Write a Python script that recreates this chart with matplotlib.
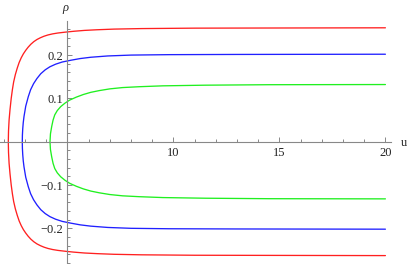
import matplotlib
matplotlib.use("Agg")
import matplotlib.pyplot as plt
from matplotlib.ticker import FixedLocator
import numpy as np

# Upper halves of the curves (u, rho); lower halves are mirror images
red_u   = [2.208, 2.218, 2.245, 2.29, 2.345, 2.40, 2.46, 2.54, 2.63, 2.72, 2.82, 2.92, 3.03, 3.14,
           3.27, 3.41, 3.56, 3.72, 3.89, 4.08, 4.30, 4.55, 4.90, 5.3, 5.8, 6.4, 7.2, 8.5, 11.0, 20.0]
red_rho = [0.0, 0.025, 0.050, 0.075, 0.100, 0.120, 0.138, 0.155, 0.170, 0.183, 0.194, 0.203, 0.211, 0.218,
           0.225, 0.231, 0.236, 0.240, 0.2435, 0.2465, 0.249, 0.251, 0.253, 0.255, 0.257, 0.2585, 0.260,
           0.2612, 0.2622, 0.263]

blue_u   = [2.868, 2.873, 2.889, 2.913, 2.948, 3.03, 3.151, 3.26, 3.40, 3.56, 3.74, 3.95, 4.17, 4.44,
            4.75, 5.15, 5.6, 6.1, 6.9, 8.0, 9.8, 13.0, 20.0]
blue_rho = [0.0, 0.015, 0.030, 0.044, 0.058, 0.082, 0.104, 0.120, 0.134, 0.146, 0.157, 0.166, 0.173,
            0.179, 0.184, 0.188, 0.192, 0.195, 0.198, 0.200, 0.201, 0.2015, 0.202]

green_u   = [4.175, 4.196, 4.255, 4.32, 4.40, 4.52, 4.68, 4.88, 5.10, 5.42, 5.75, 6.1, 6.5,
             7.0, 7.6, 8.4, 9.5, 11.5, 14.5, 20.0]
green_rho = [0.0, 0.018, 0.035, 0.050, 0.062, 0.072, 0.081, 0.089, 0.096, 0.103, 0.109, 0.114, 0.118,
             0.122, 0.125, 0.127, 0.129, 0.1305, 0.1316, 0.132]

x_major = [10, 15, 20]
y_major = [-0.2, -0.1, 0.1, 0.2]

fig = plt.figure(figsize=(4.1, 2.64), dpi=100)
ax = fig.add_axes([0, 0, 1, 1])

def full(u, r):
    u = np.asarray(u); r = np.asarray(r)
    return np.concatenate([u[::-1], u[1:]]), np.concatenate([-r[::-1], r[1:]])

for u, r, c in [(red_u, red_rho, "#ff2020"), (blue_u, blue_rho, "#2020ff"), (green_u, green_rho, "#20f020")]:
    uu, rr = full(u, r)
    ax.plot(uu, rr, color=c, lw=0.95, solid_capstyle="round", solid_joinstyle="round")

ax.set_xlim(1.816, 21.16)
ax.set_ylim(-0.2824, 0.3272)

for s in ["top", "right"]:
    ax.spines[s].set_visible(False)
ax.spines["left"].set_position(("data", 5))
ax.spines["bottom"].set_position(("data", 0))
ax.spines["left"].set_bounds(-0.2824, 0.2787)
ax.spines["bottom"].set_bounds(1.816, 20.25)
for s in ["left", "bottom"]:
    ax.spines[s].set_color("#888888")
    ax.spines[s].set_linewidth(0.8)

ax.xaxis.set_major_locator(FixedLocator(x_major))
ax.xaxis.set_minor_locator(FixedLocator([v for v in range(2, 21) if v % 5 != 0]))
ax.yaxis.set_major_locator(FixedLocator(y_major))
ax.yaxis.set_minor_locator(FixedLocator([k * 0.02 for k in range(-14, 14) if k % 5 != 0]))
ax.set_xticklabels([str(v) for v in x_major])
ax.set_yticklabels([f"{v:.1f}".replace("-", "\u2212") for v in y_major])

ax.tick_params(which="both", direction="in", color="#888888", width=0.7,
               labelsize=9, labelcolor="#222222")
ax.tick_params(which="major", length=3.8)
ax.tick_params(which="minor", length=2.0)
ax.tick_params(axis="x", pad=4)
ax.tick_params(axis="y", pad=3)
for lab in ax.get_xticklabels() + ax.get_yticklabels():
    lab.set_family("Liberation Serif")

ax.text(4.88, 0.3088, "\u03c1", family="Liberation Serif", fontsize=9, style="italic",
        ha="center", va="center", color="#222222")
ax.text(20.87, -0.003, "u", family="Liberation Serif", fontsize=9,
        ha="center", va="center", color="#222222")

fig.savefig("out.png", dpi=100)
